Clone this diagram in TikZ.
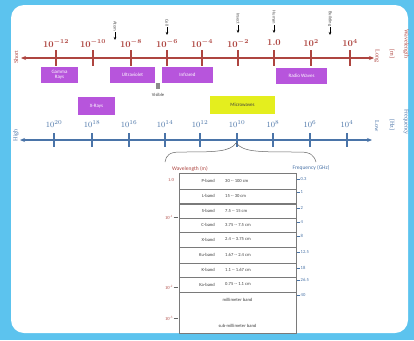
\documentclass[tikz,border=0pt]{standalone}
\usepackage{fontspec}
\setmainfont{Liberation Serif}
\newfontfamily\tabfont{Carlito}
\usepackage{xcolor}
\definecolor{skyc}{HTML}{5CC3EE}
\definecolor{wavec}{HTML}{AE4540}
\definecolor{freqc}{HTML}{4A74A8}
\definecolor{bandc}{HTML}{B755DC}
\definecolor{microc}{HTML}{E4EE1E}
\definecolor{rulec}{HTML}{7A7A7A}
\definecolor{tagc}{HTML}{555555}
\usetikzlibrary{arrows.meta,positioning,calc}
\tikzset{
  >={Stealth[length=5pt,width=4pt]},
  waxis/.style={draw=wavec,line width=1.1pt},
  faxis/.style={draw=freqc,line width=1.1pt},
  wtick/.style={draw=wavec,line width=1.2pt},
  ftick/.style={draw=freqc,line width=1.2pt},
  wnum/.style={font=\fontsize{9}{10}\selectfont\bfseries\boldmath,text=wavec,inner sep=1pt},
  fnum/.style={font=\fontsize{8.5}{10}\selectfont,text=freqc,inner sep=1pt},
  sidew/.style={font=\fontsize{6}{7}\selectfont,text=wavec,inner sep=0.5pt},
  sidef/.style={font=\fontsize{6}{7}\selectfont,text=freqc,inner sep=0.5pt},
  tagtxt/.style={font=\tabfont\fontsize{4.6}{5}\selectfont,text=tagc,rotate=-90,inner sep=0.5pt},
  tagarr/.style={->,draw=black,line width=0.4pt,>={Stealth[length=3pt,width=2.5pt]}},
  band/.style={fill=bandc,draw=none,text=white,font=\tabfont\fontsize{5}{5.5}\selectfont,align=center,inner sep=1pt},
  micro/.style={band,fill=microc,text=black!75},
  row/.style={draw=rulec,line width=0.6pt,fill=white,minimum width=117pt,inner sep=0pt},
  rtxt/.style={font=\tabfont\fontsize{4.6}{5}\selectfont,text=black!75,inner sep=0.5pt},
  wlab/.style={font=\fontsize{4.6}{5}\selectfont,text=wavec,inner sep=0.5pt},
  flab/.style={font=\tabfont\fontsize{4.6}{5}\selectfont,text=freqc,inner sep=0.5pt,anchor=west},
  brace/.style={draw=black!60,line width=0.5pt},
}

\begin{document}
\begin{tikzpicture}[x=1pt,y=-1pt]
  \fill[skyc] (0,0) rectangle (414,340);
  \fill[white,rounded corners=13pt] (11,5) rectangle (408,333);
  \useasboundingbox (0,0) rectangle (414,340);

  % wavelength scale
  \coordinate (wl) at (21,58);
  \coordinate (wr) at (374,58);
  \draw[waxis,<->] (wl) -- (wr);
  \foreach \x/\lab [count=\i] in {56/10^{-12},93/10^{-10},131/10^{-8},167/10^{-6},202/10^{-4},238/10^{-2},274/1.0,311/10^{2},350/10^{4}}{
    \draw[wtick] (\x,50) -- (\x,66);
    \node[wnum] (wn\i) at (\x,43) {$\lab$};
  }
  \foreach \x/\ty/\word [count=\i] in {115/40/Atom,167/35/Cell,238/33/Insect,274/33/Human,330/35/Building}{
    \coordinate (tip\i) at (\x,\ty);
    \node[tagtxt,anchor=east] (tg\i) at ($(tip\i)+(0,-8)$) {\word};
    \draw[tagarr] (tg\i.east) -- (tip\i);
  }
  \node[sidew,rotate=90] (short) at (16,57) {Short};
  \node[sidew,rotate=-90] (long) at (377,56) {Long};
  \node[sidew,rotate=-90] (wunit) at (392,54) {[m]};
  \node[sidew,rotate=-90] (wname) at (406,44) {Wavelength};

  % spectrum regions
  \node[band,minimum width=37pt,minimum height=16pt] (gamma) at (59.5,75) {Gamma\\Rays};
  \node[band,minimum width=45pt,minimum height=16pt] (uv) at (132.5,75) {Ultraviolet};
  \node[band,minimum width=51pt,minimum height=16pt] (ir) at (187.5,75) {Infrared};
  \node[band,minimum width=51pt,minimum height=16pt] (radio) at (301.5,76) {Radio Waves};
  \node[band,minimum width=37pt,minimum height=18pt] (xray) at (96.5,106) {X-Rays};
  \node[micro,minimum width=65pt,minimum height=18pt] (mw) at (242.5,105) {Microwaves};
  \node[fill=black!45,minimum width=4pt,minimum height=6pt,inner sep=0pt] (vis) at (158,86) {};
  \node[rtxt,below=3pt of vis] (vislab) {Visible};

  % frequency scale
  \coordinate (fl) at (20,140);
  \coordinate (fr) at (372,140);
  \draw[faxis,<->] (fl) -- (fr);
  \foreach \x/\e [count=\i] in {54/20,92/18,129/16,165/14,200/12,237/10,273/8,310/6,347/4}{
    \draw[ftick] (\x,133) -- (\x,147);
    \node[fnum] (fn\i) at (\x,124) {$10^{\e}$};
  }
  \node[sidef,rotate=90] (high) at (16,135) {High};
  \node[sidef,rotate=-90] (low) at (377,126) {Low};
  \node[sidef,rotate=-90] (funit) at (392,125) {[Hz]};
  \node[sidef,rotate=-90] (fname) at (406,122) {Frequency};

  % microwave bands
  \coordinate (bt) at (236,143);
  \node[wlab,font=\tabfont\fontsize{5.5}{6}\selectfont] (wltitle) at (190,169) {Wavelength (m)};
  \node[flab,font=\tabfont\fontsize{5.5}{6}\selectfont,anchor=center] (frtitle) at (311,168) {Frequency (GHz)};
  \draw[brace] (bt) .. controls (230,152) and (215,152) .. (180,152) .. controls (170,152) and (166,155) .. (165,162);
  \draw[brace] (bt) .. controls (244,152) and (256,152) .. (300,152) .. controls (310,152) and (314,155) .. (316,162);

  \node[row,minimum height=16pt] (pb) at (237.5,181) {};
  \node[row,minimum height=14pt] (lb) at (237.5,196) {};
  \node[row,minimum height=14pt] (sb) at (237.5,211) {};
  \node[row,minimum height=14pt] (cb) at (237.5,225) {};
  \node[row,minimum height=15pt] (xb) at (237.5,239.5) {};
  \node[row,minimum height=16pt] (kub) at (237.5,255) {};
  \node[row,minimum height=14pt] (kb) at (237.5,270) {};
  \node[row,minimum height=15pt] (kab) at (237.5,284.5) {};
  \node[row,minimum height=41pt] (mmb) at (237.5,312.5) {};
  \foreach \r/\nm/\rg in {pb/P-band/30 -- 100 cm,lb/L-band/15 -- 30 cm,sb/S-band/7.5 -- 15 cm,cb/C-band/3.75 -- 7.5 cm,xb/X-band/2.4 -- 3.75 cm,kub/Ku-band/1.67 -- 2.4 cm,kb/K-band/1.1 -- 1.67 cm,kab/Ka-band/0.75 -- 1.1 cm}{
    \node[rtxt,anchor=east] (\r-n) at ($(\r)+(-22,0)$) {\nm};
    \node[rtxt,anchor=west] (\r-r) at ($(\r)+(-13,0)$) {\rg};
  }
  \node[rtxt] (mmtxt) at (237.5,300) {millimeter band};
  \node[rtxt] (smmtxt) at (237.5,326) {sub-millimeter band};

  \node[wlab] (w0) at (171,180) {1.0};
  \foreach \y/\e [count=\i] in {217/-1,287/-2,318/-3}{
    \node[wlab] (w\i) at (169,\y) {10\textsuperscript{\e}};
    \draw[draw=black!60,line width=0.4pt] (w\i.east) -- ++(4,0);
  }
  \foreach \y/\f [count=\i] in {179/0.3,192/1,208/2,222/4,236/8,252/12.5,268/18,280/26.5,295/40}{
    \coordinate (ft\i) at (297,\y);
    \draw[draw=freqc,line width=0.4pt] (ft\i) -- ++(3,0);
    \node[flab] (fv\i) at ($(ft\i)+(3,0)$) {\f};
  }
\end{tikzpicture}
\end{document}
